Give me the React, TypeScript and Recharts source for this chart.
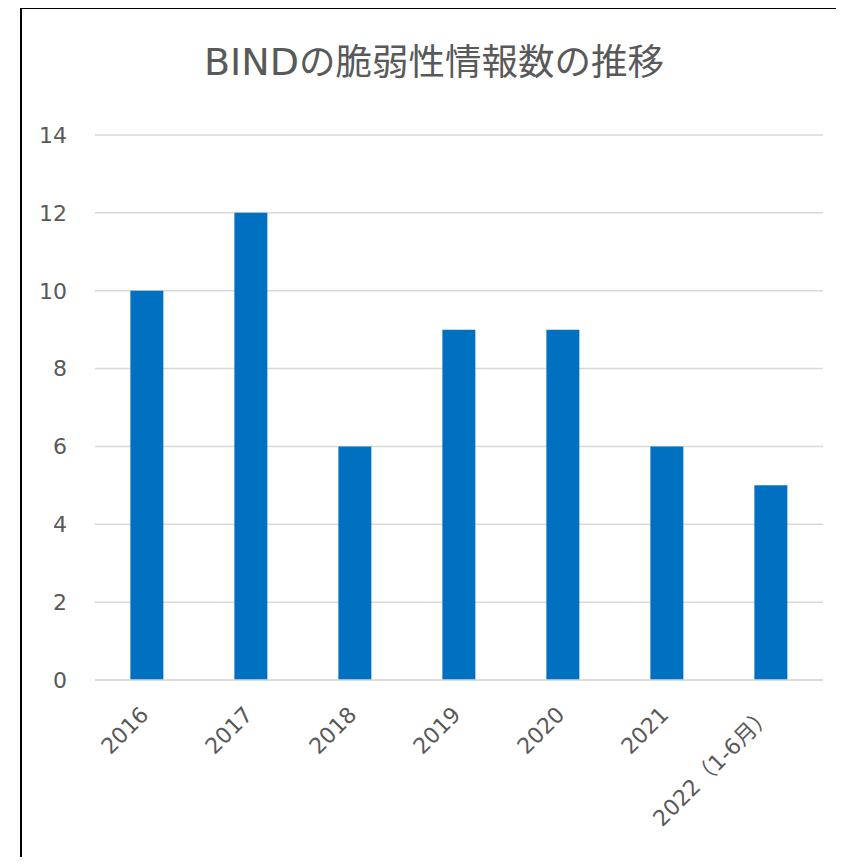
import React from 'react';
import { BarChart, Bar, XAxis, YAxis, CartesianGrid } from 'recharts';

const categories = ['2016', '2017', '2018', '2019', '2020', '2021', '2022（1-6月）'];
const counts = [10, 12, 6, 9, 9, 6, 5];
const yTicks = [0, 2, 4, 6, 8, 10, 12, 14];

const data = categories.map((name, i) => ({ name, value: counts[i] }));

const latin = '"DejaVu Sans", "Noto Sans CJK JP", sans-serif';
const cjk = '"Noto Sans CJK JP", "DejaVu Sans", sans-serif';
const textColor = '#595959';

const SlantTick = (props: any) => {
  const { x, y, payload } = props;
  return (
    <g transform={`translate(${x + 3},${y + 36})`}>
      <text textAnchor="end" transform="rotate(-45)" fill={textColor} fontSize={22} fontFamily={latin}>
        {payload.value}
      </text>
    </g>
  );
};

export default function App() {
  return (
    <div style={{ position: 'relative', margin: -8, width: 844, height: 865, overflow: 'hidden', background: '#fff' }}>
      {/* frame: only the top and left edges fall inside the window */}
      <div style={{ position: 'absolute', left: 20, top: 7, width: 824, height: 2, background: '#000' }} />
      <div style={{ position: 'absolute', left: 20, top: 7, width: 2, height: 858, background: '#000' }} />
      <svg width={844} height={100} style={{ position: 'absolute', left: 0, top: 0 }}>
        <text x={434} y={75} textAnchor="middle" fill={textColor}>
          <tspan fontFamily={latin} fontSize={38}>BIND</tspan>
          <tspan fontFamily={cjk} fontSize={36.5}>の脆弱性情報数の推移</tspan>
        </text>
      </svg>
      <div style={{ position: 'absolute', left: 0, top: 0 }}>
        <BarChart
          width={844}
          height={865}
          data={data}
          margin={{ top: 135, right: 21, bottom: 0, left: 0 }}
          barCategoryGap="34%"
        >
          <CartesianGrid vertical={false} stroke="#d9d9d9" strokeWidth={1.5} />
          <XAxis
            dataKey="name"
            height={185}
            interval={0}
            axisLine={{ stroke: '#d9d9d9', strokeWidth: 1.5 }}
            tickLine={false}
            tickSize={0}
            tickMargin={0}
            tick={<SlantTick />}
          />
          <YAxis
            width={95}
            domain={[0, 14]}
            ticks={yTicks}
            axisLine={false}
            tickLine={false}
            tickSize={0}
            tickMargin={28}
            tick={{ fill: textColor, fontSize: 22, fontFamily: latin }}
          />
          <Bar dataKey="value" fill="#0070c0" isAnimationActive={false} />
        </BarChart>
      </div>
    </div>
  );
}
